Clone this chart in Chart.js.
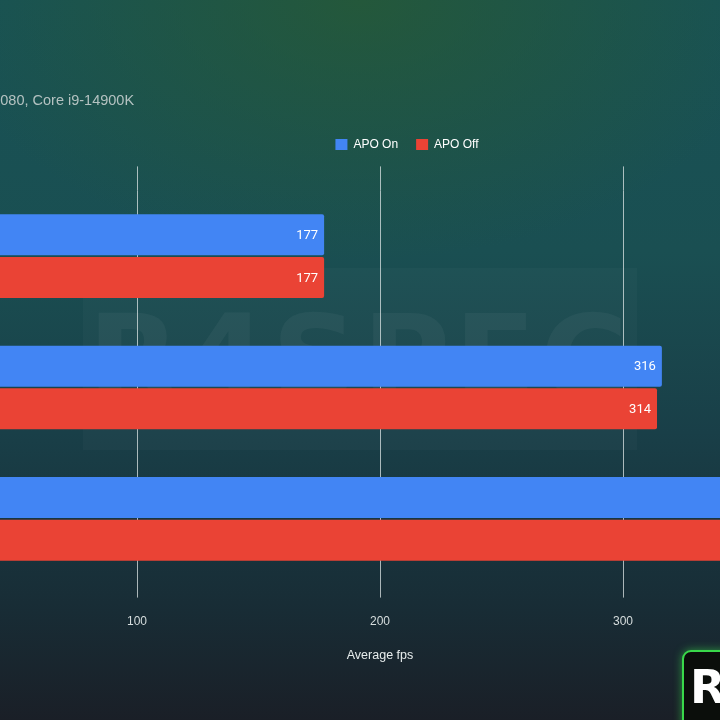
<!DOCTYPE html>
<html>
<head>
<meta charset="utf-8">
<script src="https://cdn.jsdelivr.net/npm/chart.js@4.4.1/dist/chart.umd.min.js"></script>
<style>
  html, body { margin: 0; padding: 0; }
  body {
    width: 720px; height: 720px; overflow: hidden; position: relative;
    background:
      radial-gradient(ellipse 420px 260px at 50% 0%, rgba(40, 90, 50, 0.75), rgba(40, 90, 50, 0) 100%),
      linear-gradient(180deg, #185255 0%, #1a4f52 35%, #193f48 60%, #182c35 85%, #1a1f27 100%);
  }
  #wrap { position: absolute; left: -266px; top: 0; width: 1346px; height: 720px; }
  #mark {
    position: absolute; left: 83px; top: 268px; width: 554px; height: 182px;
    background: rgba(255, 255, 255, 0.025);
    font: 900 120px "DejaVu Sans", sans-serif; color: rgba(255, 255, 255, 0.045);
    line-height: 182px; text-align: center; letter-spacing: 4px; overflow: hidden;
  }
  #logo {
    position: absolute; left: 682px; top: 650px; width: 64px; height: 80px;
    background: #0b0e0b; border: 2px solid #39d84a; border-radius: 9px;
    box-shadow: 0 0 8px rgba(57, 216, 74, 0.6);
    font: 900 46px "DejaVu Sans", sans-serif; color: #fff; line-height: 70px; padding-left: 6px;
  }
</style>
</head>
<body>
<div id="mark">R4SPEC</div>
<div id="wrap"><canvas id="chart" width="1346" height="720"></canvas></div>
<div id="logo">R</div>
<script>
// ---- data ----
const games = ['Metro Exodus', 'Rainbow Six Siege', 'World of Warcraft'];
const apoOn = [177, 316, 372];
const apoOff = [177, 314, 370];
const seriesNames = ['APO On', 'APO Off'];
const xTicks = [0, 100, 200, 300, 400];
const subtitleText = 'GeForce RTX 4080, Core i9-14900K';
const xTitle = 'Average fps';

const BLUE = '#4285f4';
const RED = '#ea4335';
const GRID = 'rgba(220,228,228,0.75)';
const SANS = '"Liberation Sans", Arial, sans-serif';

// value labels inside the bar end
const BarLabels = {
  id: 'barLabels',
  afterDatasetsDraw(chart) {
    const { ctx } = chart;
    ctx.save();
    ctx.font = '13px Roboto';
    ctx.fillStyle = '#ffffff';
    ctx.textAlign = 'right';
    ctx.textBaseline = 'middle';
    chart.data.datasets.forEach((ds, i) => {
      chart.getDatasetMeta(i).data.forEach((bar, j) => {
        ctx.fillText(String(ds.data[j]), bar.x - 6, bar.y + 1);
      });
    });
    ctx.restore();
  }
};

// grid lines run a little above the plot area
const GridTop = {
  id: 'gridTop',
  beforeDatasetsDraw(chart) {
    const { ctx, chartArea: area, scales: { x } } = chart;
    ctx.save();
    ctx.strokeStyle = GRID;
    ctx.lineWidth = 1;
    x.ticks.forEach(t => {
      const px = Math.round(x.getPixelForValue(t.value)) + 0.5;
      ctx.beginPath();
      ctx.moveTo(px, area.top - 24);
      ctx.lineTo(px, area.top);
      ctx.stroke();
    });
    ctx.restore();
  }
};

// extra space under the legend, and horizontal nudges for legend / subtitle
const LegendGap = {
  id: 'legendGap',
  beforeInit(chart) {
    const fit = chart.legend.fit;
    chart.legend.fit = function () {
      fit.bind(chart.legend)();
      this.height += 30;
    };
  },
  afterLayout(chart, args, opts) {
    chart.legend.left += opts.legendShift;
    chart.legend.right += opts.legendShift;
    const sub = chart.boxes.find(b => b !== chart.legend && b.options && b.options.text === subtitleText);
    if (sub) {
      sub.left += opts.subtitleShift;
      sub.right += opts.subtitleShift;
    }
  }
};

new Chart(document.getElementById('chart'), {
  type: 'bar',
  plugins: [BarLabels, GridTop, LegendGap],
  data: {
    labels: games,
    datasets: [
      { label: seriesNames[0], data: apoOn, backgroundColor: BLUE, borderRadius: 2,
        categoryPercentage: 0.65, barPercentage: 0.96 },
      { label: seriesNames[1], data: apoOff, backgroundColor: RED, borderRadius: 2,
        categoryPercentage: 0.65, barPercentage: 0.96 }
    ]
  },
  options: {
    indexAxis: 'y',
    responsive: false,
    animation: false,
    layout: { padding: { left: 10, right: 214, top: 0, bottom: 57 } },
    plugins: {
      tooltip: { enabled: false },
      legendGap: { legendShift: 102, subtitleShift: 5 },
      subtitle: {
        display: true,
        text: subtitleText,
        align: 'start',
        fullSize: false,
        color: '#b4c2c1',
        font: { family: SANS, size: 14.5 },
        padding: { top: 92, bottom: 11 }
      },
      legend: {
        position: 'top',
        labels: {
          color: '#ffffff',
          font: { family: SANS, size: 12 },
          boxWidth: 12,
          boxHeight: 11,
          padding: 18
        }
      }
    },
    scales: {
      x: {
        min: xTicks[0],
        max: xTicks[xTicks.length - 1],
        afterBuildTicks(scale) { scale.ticks = xTicks.map(v => ({ value: v })); },
        grid: { color: GRID, tickLength: 13, tickColor: GRID },
        border: { display: false },
        ticks: { color: '#d6dddd', font: { family: SANS, size: 12 }, padding: 17 },
        title: {
          display: true, text: xTitle, color: '#e6ecec',
          font: { family: SANS, size: 12.5 }, padding: { top: 2, bottom: 0 }
        }
      },
      y: {
        afterFit(scale) { scale.width = 150; },
        grid: { display: false },
        border: { display: false },
        ticks: { color: '#d6dddd', font: { family: SANS, size: 13 } }
      }
    }
  }
});
</script>
</body>
</html>
